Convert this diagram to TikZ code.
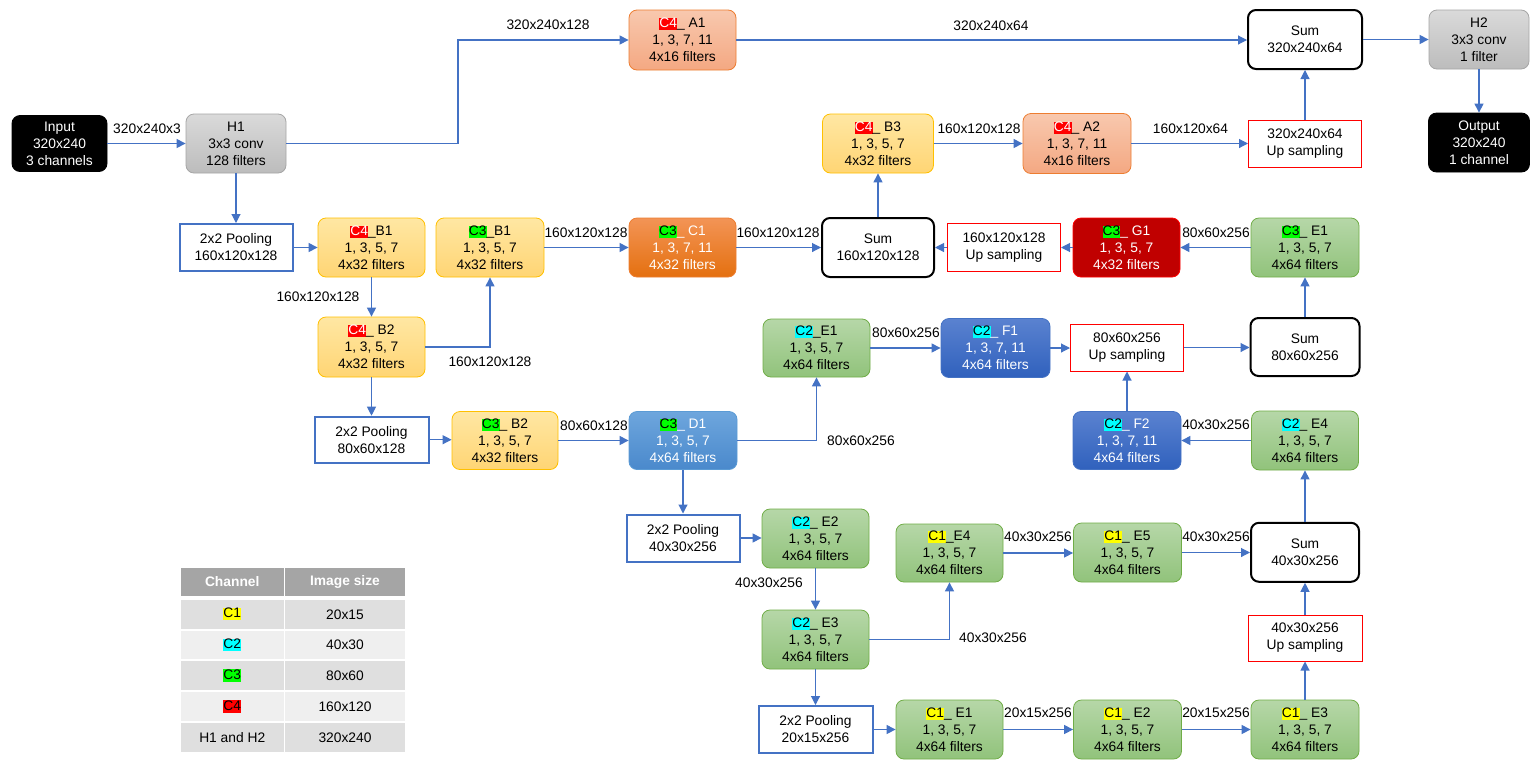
\documentclass[tikz,border=0pt]{standalone}
\usepackage{fontspec}
\setmainfont{Liberation Sans}
\usetikzlibrary{arrows.meta}
\definecolor{ablue}{HTML}{4472C4}
\definecolor{grayT}{HTML}{DADADA}\definecolor{grayB}{HTML}{BCBCBC}\definecolor{grayD}{HTML}{A6A6A6}
\definecolor{yelT}{HTML}{FFE7A3}\definecolor{yelB}{HTML}{FFD574}\definecolor{yelD}{HTML}{FFC000}
\definecolor{salT}{HTML}{F8C8AE}\definecolor{salB}{HTML}{F4A882}\definecolor{salD}{HTML}{ED7D31}
\definecolor{orT}{HTML}{F39456}\definecolor{orB}{HTML}{E4700F}
\definecolor{grT}{HTML}{B6D7A8}\definecolor{grB}{HTML}{91C37B}\definecolor{grD}{HTML}{70AD47}
\definecolor{lbT}{HTML}{6EA6DD}\definecolor{lbB}{HTML}{4A89CC}\definecolor{lbD}{HTML}{5B9BD5}
\definecolor{dbT}{HTML}{5A82D0}\definecolor{dbB}{HTML}{3061BD}\definecolor{dbD}{HTML}{4472C4}
\definecolor{dred}{HTML}{C00000}
\definecolor{hgreen}{HTML}{00FF00}
\definecolor{hcyan}{HTML}{00FFFF}
\definecolor{hyel}{HTML}{FFFF00}
\definecolor{hred}{HTML}{FF0000}
\definecolor{thead}{HTML}{A5A5A5}
\definecolor{rowD}{HTML}{DFDFDF}
\definecolor{rowL}{HTML}{EFEFEF}
\newcommand\myfs{\fontsize{13.8}{17}\selectfont}
\newcommand\mytg[3]{{\setlength{\fboxsep}{0pt}\colorbox{#1}{\rule[-2.5pt]{0pt}{12pt}\textcolor{#2}{#3}}}}
\newcommand\tagCa{\mytg{hyel}{black}{C1}}
\newcommand\tagCb{\mytg{hcyan}{black}{C2}}
\newcommand\tagCc{\mytg{hgreen}{black}{C3}}
\newcommand\tagCd{\mytg{hred}{white}{C4}}
\begin{document}
\begin{tikzpicture}[x=1pt,y=-1pt,
  box/.style={rounded corners=8pt, align=center, inner sep=0pt, font=\myfs, line width=0.8pt},
  blackbox/.style={box, fill=black, draw=black, text=white},
  graybox/.style={box, top color=grayT, bottom color=grayB, draw=grayD},
  yelbox/.style={box, top color=yelT, bottom color=yelB, draw=yelD},
  salbox/.style={box, top color=salT, bottom color=salB, draw=salD},
  orbox/.style={box, top color=orT, bottom color=orB, draw=salD, text=white},
  grbox/.style={box, top color=grT, bottom color=grB, draw=grD},
  lbbox/.style={box, top color=lbT, bottom color=lbB, draw=lbD, text=white},
  dbbox/.style={box, top color=dbT, bottom color=dbB, draw=dbD, text=white},
  redbox/.style={box, fill=dred, draw=hred, text=white},
  sumbox/.style={box, fill=white, draw=black, line width=2pt},
  poolbox/.style={align=center, inner sep=0pt, font=\myfs, fill=white, draw=ablue, line width=2pt},
  upbox/.style={align=center, inner sep=0pt, font=\myfs, fill=white, draw=hred, line width=1pt},
  lbl/.style={font=\myfs, inner sep=0pt},
  conn/.style={draw=ablue, line width=1.1pt, -{Triangle[length=9pt,width=9pt]}},
  cell/.style={inner sep=0pt, font=\myfs, draw=none},
]
\useasboundingbox[fill=white] (0,0) rectangle (1540,769);

% ---- nodes ----
\node[blackbox, minimum width=95, minimum height=56] (inp) at (59.5,143.5) {Input\\320x240\\3 channels};
\node[graybox, minimum width=100, minimum height=59] (h1) at (236,143.5) {H1\\3x3 conv\\128 filters};
\node[salbox, minimum width=107, minimum height=60] (a1) at (682.5,40) {\tagCd\_ A1\\1, 3, 7, 11\\4x16 filters};
\node[sumbox, minimum width=114, minimum height=59] (sumtop) at (1305,39.5) {Sum\\320x240x64};
\node[graybox, minimum width=100, minimum height=59] (h2) at (1479,39.5) {H2\\3x3 conv\\1 filter};
\node[blackbox, minimum width=101, minimum height=59] (out) at (1479,142.5) {Output\\320x240\\1 channel};
\node[yelbox, minimum width=111, minimum height=59] (b3) at (878,143.5) {\tagCd\_ B3\\1, 3, 5, 7\\4x32 filters};
\node[salbox, minimum width=108, minimum height=60] (a2) at (1077,143.5) {\tagCd\_ A2\\1, 3, 7, 11\\4x16 filters};
\node[upbox, minimum width=113, minimum height=47] (up320) at (1305,143.5) {320x240x64\\Up sampling};

\node[poolbox, minimum width=113, minimum height=47] (pool1) at (236,247.5) {2x2 Pooling\\160x120x128};
\node[yelbox, minimum width=107, minimum height=59] (b1) at (371.5,247.5) {\tagCd\_B1\\1, 3, 5, 7\\4x32 filters};
\node[yelbox, minimum width=108, minimum height=59] (cb1) at (490,247.5) {\tagCc\_B1\\1, 3, 5, 7\\4x32 filters};
\node[orbox, minimum width=107, minimum height=59] (c1) at (682.5,247.5) {\tagCc\_ C1\\1, 3, 7, 11\\4x32 filters};
\node[sumbox, minimum width=112, minimum height=59] (sum160) at (878,247.5) {Sum\\160x120x128};
\node[upbox, minimum width=113, minimum height=48] (up160) at (1004,247.5) {160x120x128\\Up sampling};
\node[redbox, minimum width=107, minimum height=59] (g1) at (1126.5,247.5) {\tagCc\_ G1\\1, 3, 5, 7\\4x32 filters};
\node[grbox, minimum width=108, minimum height=59] (e1c3) at (1305,247.5) {\tagCc\_ E1\\1, 3, 5, 7\\4x64 filters};

\node[yelbox, minimum width=107, minimum height=60] (b2) at (371.5,347) {\tagCd\_ B2\\1, 3, 5, 7\\4x32 filters};
\node[grbox, minimum width=107, minimum height=58] (e1c2) at (816.5,348) {\tagCb\_E1\\1, 3, 5, 7\\4x64 filters};
\node[dbbox, minimum width=109, minimum height=59] (f1) at (995.5,348) {\tagCb\_ F1\\1, 3, 7, 11\\4x64 filters};
\node[upbox, minimum width=113, minimum height=47] (up80) at (1127,347.5) {80x60x256\\Up sampling};
\node[sumbox, minimum width=109, minimum height=58] (sum80) at (1305,347) {Sum\\80x60x256};

\node[poolbox, minimum width=114, minimum height=46] (pool2) at (371.5,439.7) {2x2 Pooling\\80x60x128};
\node[yelbox, minimum width=106, minimum height=58] (cb2) at (505,440.5) {\tagCc\_ B2\\1, 3, 5, 7\\4x32 filters};
\node[lbbox, minimum width=108, minimum height=58] (d1) at (683,440.5) {\tagCc\_ D1\\1, 3, 5, 7\\4x64 filters};
\node[dbbox, minimum width=108, minimum height=58] (f2) at (1127,440.5) {\tagCb\_ F2\\1, 3, 7, 11\\4x64 filters};
\node[grbox, minimum width=107, minimum height=59] (e4c2) at (1305,440.5) {\tagCb\_ E4\\1, 3, 5, 7\\4x64 filters};

\node[poolbox, minimum width=113, minimum height=47] (pool3) at (683,538) {2x2 Pooling\\40x30x256};
\node[grbox, minimum width=107, minimum height=59] (e2c2) at (815.5,538.5) {\tagCb\_ E2\\1, 3, 5, 7\\4x64 filters};
\node[grbox, minimum width=107, minimum height=58] (e4c1) at (949.5,553) {\tagCa\_E4\\1, 3, 5, 7\\4x64 filters};
\node[grbox, minimum width=108, minimum height=59] (e5c1) at (1127.5,552.5) {\tagCa\_ E5\\1, 3, 5, 7\\4x64 filters};
\node[sumbox, minimum width=108, minimum height=59] (sum40) at (1305,552.3) {Sum\\40x30x256};
\node[grbox, minimum width=107, minimum height=59] (e3c2) at (815.5,639.5) {\tagCb\_ E3\\1, 3, 5, 7\\4x64 filters};
\node[upbox, minimum width=114, minimum height=46] (up40) at (1305,638) {40x30x256\\Up sampling};
\node[poolbox, minimum width=114, minimum height=47] (pool4) at (815.5,729.5) {2x2 Pooling\\20x15x256};
\node[grbox, minimum width=107, minimum height=59] (e1c1) at (949.5,729.5) {\tagCa\_ E1\\1, 3, 5, 7\\4x64 filters};
\node[grbox, minimum width=108, minimum height=59] (e2c1) at (1127.5,729.5) {\tagCa\_ E2\\1, 3, 5, 7\\4x64 filters};
\node[grbox, minimum width=108, minimum height=59] (e3c1) at (1305,729.5) {\tagCa\_ E3\\1, 3, 5, 7\\4x64 filters};

% ---- connectors ----
\coordinate (k1) at (458,143.5);
\draw[conn] (inp.east) -- (inp.east -| h1.west);
\draw[conn] (h1.east) -- (k1) |- (a1.west);
\draw[conn] (h1.south) -- (h1.south |- pool1.north);
\draw[conn] (pool1.east) -- (pool1.east -| b1.west);
\draw[conn] (b1.south) -- (b1.south |- b2.north);
\draw[conn] (b2.east) -| (cb1.south);
\draw[conn] (cb1.east) -- (cb1.east -| c1.west);
\draw[conn] (c1.east) -- (c1.east -| sum160.west);
\draw[conn] (sum160.north) -- (sum160.north |- b3.south);
\draw[conn] (b3.east) -- (b3.east -| a2.west);
\draw[conn] (a2.east) -- (a2.east -| up320.west);
\draw[conn] (up320.north) -- (up320.north |- sumtop.south);
\draw[conn] (a1.east) -- (a1.east -| sumtop.west);
\draw[conn] (sumtop.east) -- (sumtop.east -| h2.west);
\draw[conn] (h2.south) -- (h2.south |- out.north);
\draw[conn] (e1c3.west) -- (e1c3.west -| g1.east);
\draw[conn] (g1.west) -- (g1.west -| up160.east);
\draw[conn] (up160.west) -- (up160.west -| sum160.east);
\draw[conn] (sum80.north) -- (sum80.north |- e1c3.south);
\draw[conn] (b2.south) -- (b2.south |- pool2.north);
\draw[conn] (pool2.east) -- (pool2.east -| cb2.west);
\draw[conn] (cb2.east) -- (cb2.east -| d1.west);
\draw[conn] (d1.east) -| (e1c2.south);
\draw[conn] (e1c2.east) -- (e1c2.east -| f1.west);
\draw[conn] (f1.east) -- (f1.east -| up80.west);
\draw[conn] (up80.east) -- (up80.east -| sum80.west);
\draw[conn] (f2.north) -- (f2.north |- up80.south);
\draw[conn] (e4c2.west) -- (e4c2.west -| f2.east);
\draw[conn] (sum40.north) -- (sum40.north |- e4c2.south);
\draw[conn] (d1.south) -- (d1.south |- pool3.north);
\draw[conn] (pool3.east) -- (pool3.east -| e2c2.west);
\draw[conn] (e2c2.south) -- (e2c2.south |- e3c2.north);
\draw[conn] (e3c2.east) -| (e4c1.south);
\draw[conn] (e4c1.east) -- (e4c1.east -| e5c1.west);
\draw[conn] (e5c1.east) -- (e5c1.east -| sum40.west);
\draw[conn] (e3c2.south) -- (e3c2.south |- pool4.north);
\draw[conn] (pool4.east) -- (pool4.east -| e1c1.west);
\draw[conn] (e1c1.east) -- (e1c1.east -| e2c1.west);
\draw[conn] (e2c1.east) -- (e2c1.east -| e3c1.west);
\draw[conn] (e3c1.north) -- (e3c1.north |- up40.south);
\draw[conn] (up40.north) -- (up40.north |- sum40.south);

% ---- labels ----
\node[lbl] (l1) at (147,129) {320x240x3};
\node[lbl] (l2) at (548,25) {320x240x128};
\node[lbl] (l3) at (991,26) {320x240x64};
\node[lbl] (l4) at (979,129) {160x120x128};
\node[lbl] (l5) at (1190.5,129) {160x120x64};
\node[lbl] (l6) at (586,233) {160x120x128};
\node[lbl] (l7) at (778,233) {160x120x128};
\node[lbl] (l8) at (1216,233) {80x60x256};
\node[lbl] (l9) at (318,297) {160x120x128};
\node[lbl] (l10) at (490,362) {160x120x128};
\node[lbl] (l11) at (906,333) {80x60x256};
\node[lbl] (l12) at (594,426) {80x60x128};
\node[lbl] (l13) at (861,441) {80x60x256};
\node[lbl] (l14) at (1216,425) {40x30x256};
\node[lbl] (l15) at (1038,537) {40x30x256};
\node[lbl] (l16) at (1216,537) {40x30x256};
\node[lbl] (l17) at (769,583) {40x30x256};
\node[lbl] (l18) at (993,638) {40x30x256};
\node[lbl] (l19) at (1038,713) {20x15x256};
\node[lbl] (l20) at (1216,713) {20x15x256};

% ---- table ----
\node[cell, fill=thead, text=white, minimum width=102.5, minimum height=28, font=\myfs\bfseries] (th1) at (232.25,582) {Channel};
\node[cell, fill=thead, text=white, minimum width=120, minimum height=28, font=\myfs\bfseries] (th2) at (345,582) {Image size};
\node[cell, fill=rowD, minimum width=102.5, minimum height=28.5] (r1a) at (232.25,614.25) {\tagCa};
\node[cell, fill=rowD, minimum width=120, minimum height=28.5] (r1b) at (345,614.25) {20x15};
\node[cell, fill=rowL, minimum width=102.5, minimum height=28.5] (r2a) at (232.25,644.75) {\tagCb};
\node[cell, fill=rowL, minimum width=120, minimum height=28.5] (r2b) at (345,644.75) {40x30};
\node[cell, fill=rowD, minimum width=102.5, minimum height=29] (r3a) at (232.25,675.5) {\tagCc};
\node[cell, fill=rowD, minimum width=120, minimum height=29] (r3b) at (345,675.5) {80x60};
\node[cell, fill=rowL, minimum width=102.5, minimum height=29] (r4a) at (232.25,706.5) {\mytg{hred}{black}{C4}};
\node[cell, fill=rowL, minimum width=120, minimum height=29] (r4b) at (345,706.5) {160x120};
\node[cell, fill=rowD, minimum width=102.5, minimum height=29] (r5a) at (232.25,737.5) {H1 and H2};
\node[cell, fill=rowD, minimum width=120, minimum height=29] (r5b) at (345,737.5) {320x240};
\end{tikzpicture}
\end{document}
